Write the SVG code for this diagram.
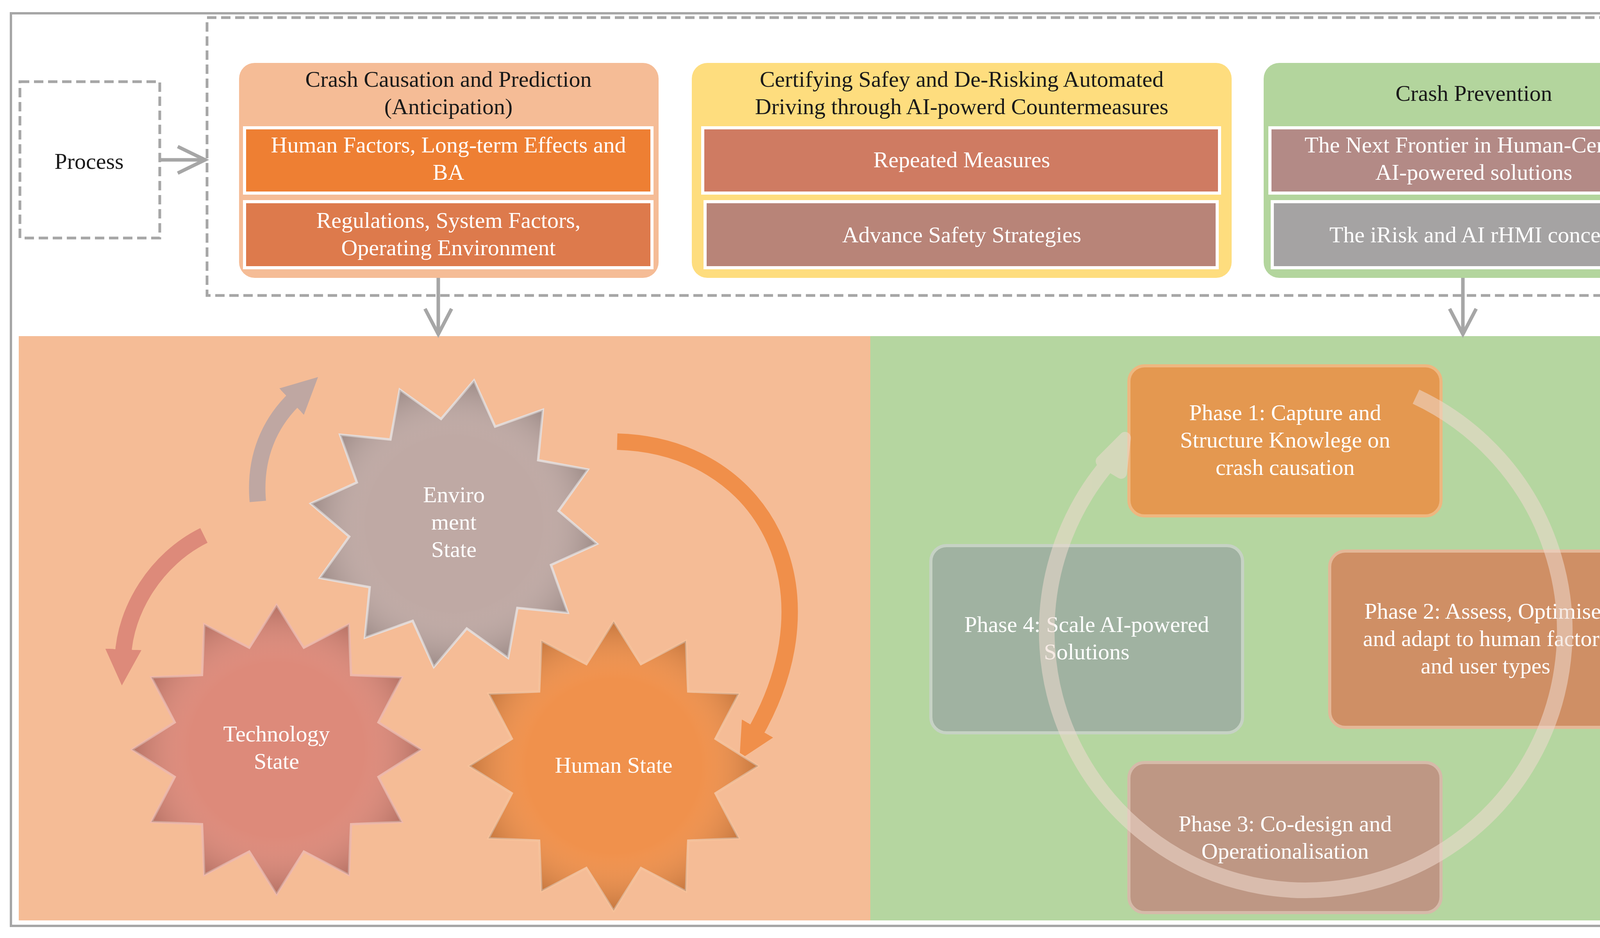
<svg xmlns="http://www.w3.org/2000/svg" width="4422" height="2400" viewBox="0 0 4422 2400">
<style>
text{font-family:"Liberation Serif","DejaVu Serif",serif;font-size:58px;text-anchor:middle}
.dk{fill:#1a1a1a}
.wt{fill:#ffffff}
.sub{stroke:#ffffff;stroke-width:8}
.dash{fill:none;stroke:#a6a6a6;stroke-width:7;stroke-dasharray:24 12}
.conn{fill:none;stroke:#a6a6a6;stroke-width:9}
.phase{stroke-width:8;opacity:0.92}
</style>
<defs>
<polygon id="star" points="0,-370 69.9,-260.8 185,-320.4 190.9,-190.9 320.4,-185 260.8,-69.9 370,0 260.8,69.9 320.4,185 190.9,190.9 185,320.4 69.9,260.8 0,370 -69.9,260.8 -185,320.4 -190.9,190.9 -320.4,185 -260.8,69.9 -370,0 -260.8,-69.9 -320.4,-185 -190.9,-190.9 -185,-320.4 -69.9,-260.8"/>
<radialGradient id="shade" cx="0.5" cy="0.5" r="0.5">
<stop offset="0.6" stop-color="#fff" stop-opacity="0"/>
<stop offset="1" stop-color="#000" stop-opacity="0.18"/>
</radialGradient>
<marker id="ah" viewBox="0 0 10 10" refX="2" refY="5" markerWidth="2.2" markerHeight="2.2" orient="auto"><path d="M0,0 L10,5 L0,10 z" fill="context-stroke"/></marker>
<marker id="ahg" viewBox="0 0 10 10" refX="8" refY="5" markerWidth="8" markerHeight="8" markerUnits="userSpaceOnUse" orient="auto"><path d="M0,0 L10,5 L0,10" fill="none" stroke="#a6a6a6" stroke-width="1.5"/></marker>
</defs>
<rect x="28" y="34" width="4366" height="2335" fill="#fff" stroke="#a6a6a6" stroke-width="6"/>
<rect x="48" y="860" width="2180" height="1495" fill="#f5bc96"/>
<rect x="2228" y="860" width="2149" height="1495" fill="#b5d6a0"/>

<rect class="dash" x="530" y="45" width="3807" height="711"/>
<g id="process"><rect class="dash" x="51" y="209" width="358" height="400"/><text class="dk" x="228" y="432">Process</text></g>

<g id="col1">
<rect x="612" y="161" width="1074" height="550" rx="40" fill="#f5bc96"/>
<text class="dk" x="1148" y="222">Crash Causation and Prediction</text>
<text class="dk" x="1148" y="292">(Anticipation)</text>
<rect class="sub" x="626" y="327" width="1043" height="167" fill="#ee7f33"/>
<text class="wt" x="1148" y="390">Human Factors, Long-term Effects and</text>
<text class="wt" x="1148" y="460">BA</text>
<rect class="sub" x="626" y="516" width="1043" height="169" fill="#dd7a4c"/>
<text class="wt" x="1148" y="583">Regulations, System Factors,</text>
<text class="wt" x="1148" y="653">Operating Environment</text>
</g>
<g id="col2">
<rect x="1771" y="161" width="1382" height="550" rx="40" fill="#fedd7e"/>
<text class="dk" x="2462" y="222">Certifying Safey and De-Risking Automated</text>
<text class="dk" x="2462" y="292">Driving through AI-powerd Countermeasures</text>
<rect class="sub" x="1799" y="327" width="1323" height="167" fill="#cf7b62"/>
<text class="wt" x="2462" y="428">Repeated Measures</text>
<rect class="sub" x="1805" y="516" width="1311" height="169" fill="#b88478"/>
<text class="wt" x="2462" y="620">Advance Safety Strategies</text>
</g>
<g id="col3">
<rect x="3235" y="161" width="1080" height="550" rx="40" fill="#b3d59d"/>
<text class="dk" x="3773" y="258">Crash Prevention</text>
<rect class="sub" x="3251" y="327" width="1044" height="167" fill="#b38a86"/>
<text class="wt" x="3773" y="390">The Next Frontier in Human-Centred</text>
<text class="wt" x="3773" y="460">AI-powered solutions</text>
<rect class="sub" x="3257" y="516" width="1032" height="169" fill="#a5a3a3"/>
<text class="wt" x="3773" y="620">The iRisk and AI rHMI concept</text>
</g>

<g id="connectors">
<path class="conn" d="M409,409 H525" marker-end="url(#ahg)"/>
<path d="M455,375 L525,409 L455,443" class="conn"/>
<path class="conn" d="M1122,711 V855"/>
<path d="M1088,790 L1122,855 L1156,790" class="conn"/>
<path class="conn" d="M3745,711 V855"/>
<path d="M3711,790 L3745,855 L3779,790" class="conn"/>
<path d="M660,1283 C650,1170 690,1080 760,1015" fill="none" stroke="#bfa7a2" stroke-width="42" marker-end="url(#ah)"/>
<path d="M1580,1130 C1950,1140 2150,1500 1930,1880" fill="none" stroke="#f08f4a" stroke-width="42" marker-end="url(#ah)"/>
<path d="M522,1370 C400,1430 320,1560 315,1680" fill="none" stroke="#dd8a7a" stroke-width="42" marker-end="url(#ah)"/>
</g>

<g id="env"><use href="#star" transform="translate(1162,1340) rotate(8)" fill="#bfa9a4" stroke="#e6dcd9" stroke-width="6"/><use href="#star" transform="translate(1162,1340) rotate(8)" fill="url(#shade)"/>
<text class="wt" x="1162" y="1285">Enviro</text><text class="wt" x="1162" y="1355">ment</text><text class="wt" x="1162" y="1425">State</text></g>
<g id="tech"><use href="#star" transform="translate(708,1918)" fill="#dd8a7a" stroke="#f0b9ab" stroke-width="6"/><use href="#star" transform="translate(708,1918)" fill="url(#shade)"/>
<text class="wt" x="708" y="1897">Technology</text><text class="wt" x="708" y="1967">State</text></g>
<g id="human"><use href="#star" transform="translate(1571,1960)" fill="#f0914c" stroke="#f7c29b" stroke-width="6"/><use href="#star" transform="translate(1571,1960)" fill="url(#shade)"/>
<text class="wt" x="1571" y="1977">Human State</text></g>

<g id="p1"><rect class="phase" x="2890" y="936" width="799" height="384" rx="40" fill="#e8934a" stroke="#f3b57e"/>
<text class="wt" x="3290" y="1075">Phase 1: Capture and</text><text class="wt" x="3290" y="1145">Structure Knowlege on</text><text class="wt" x="3290" y="1215">crash causation</text></g>
<g id="p2"><rect class="phase" x="3404" y="1410" width="798" height="451" rx="40" fill="#d28a60" stroke="#e9b597"/>
<text class="wt" x="3803" y="1583">Phase 2: Assess, Optimise,</text><text class="wt" x="3803" y="1653">and adapt to human factors</text><text class="wt" x="3803" y="1723">and user types</text></g>
<g id="p3"><rect class="phase" x="2890" y="1951" width="799" height="384" rx="40" fill="#bf9282" stroke="#d9b8aa"/>
<text class="wt" x="3290" y="2127">Phase 3: Co-design and</text><text class="wt" x="3290" y="2197">Operationalisation</text></g>
<g id="p4"><rect class="phase" x="2383" y="1396" width="798" height="479" rx="40" fill="#9fb0a2" stroke="#c8d2c8"/>
<text class="wt" x="2782" y="1617">Phase 4: Scale AI-powered</text><text class="wt" x="2782" y="1687">Solutions</text></g>
<g id="cycle" opacity="0.55"><path d="M3625,1015 A663,663 0 1 1 2870,1150" fill="none" stroke="#eedbd0" stroke-width="40"/>
<path d="M2820,1180 L2880,1120 L2870,1210 Z" fill="#eedbd0" stroke="#eedbd0" stroke-width="30" stroke-linejoin="round"/></g>
</svg>
